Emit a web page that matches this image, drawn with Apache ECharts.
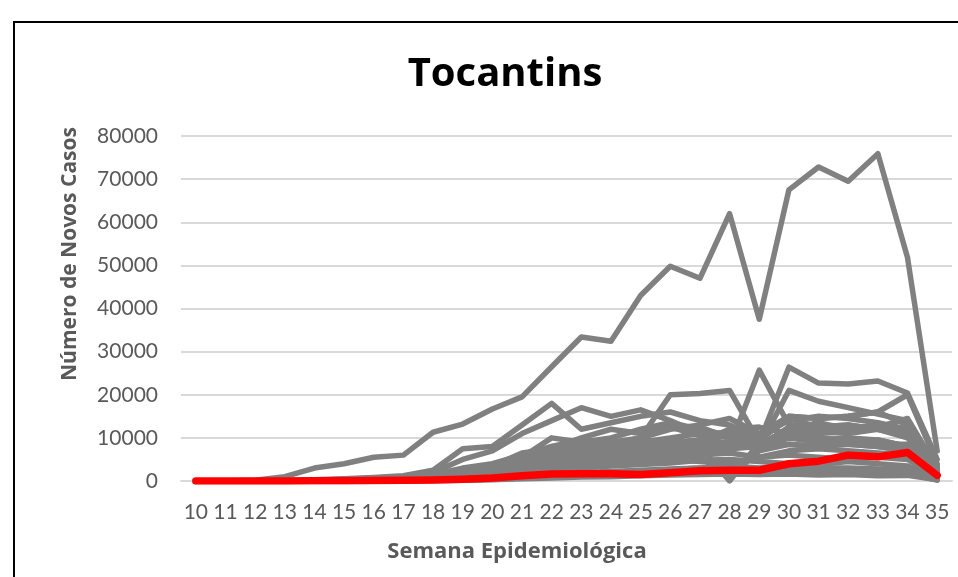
<!DOCTYPE html>
<html>
<head>
<meta charset="utf-8">
<script src="https://cdn.jsdelivr.net/npm/echarts@6/dist/echarts.min.js"></script>
<style>
  html, body { margin: 0; padding: 0; background: #fff; overflow: hidden; }
  #main { width: 958px; height: 577px; }
  .frame { position: absolute; left: 13px; top: 21px; width: 1200px; height: 800px;
           border-left: 2px solid #000; border-top: 2px solid #000; pointer-events: none; }
</style>
</head>
<body>
<div id="main"></div>
<div class="frame"></div>
<script>
var semanas = ["10","11","12","13","14","15","16","17","18","19","20","21","22","23","24","25","26","27","28","29","30","31","32","33","34","35"];

// Tocantins (vermelho)
var tocantins = [0,0,0,0,50,80,100,150,250,400,700,1200,1600,1700,1700,1500,1900,2400,2500,2500,4000,4600,6000,5600,6600,1300];

// demais estados (cinza)
var est01 = [0,0,200,1000,3000,4000,5500,6000,11300,13200,16700,19500,26500,33400,32400,43000,49800,47000,62000,37500,67500,72800,69500,75900,51800,7000];
var est02 = [0,0,0,100,300,500,800,1200,2500,7500,8000,13000,18000,12000,13500,15000,16000,14000,13000,10000,15000,14500,15000,16000,13000,3000];
var est03 = [0,0,0,0,200,400,700,1000,2000,5000,7000,11000,14000,17000,15000,16500,14000,11000,10000,8000,21000,18500,17000,15500,14000,2500];
var est04 = [0,0,0,0,100,200,400,700,1500,3000,4000,6000,8000,9500,9000,10000,20000,20300,21000,9000,26400,22700,22500,23200,20400,5000];
var est05 = [0,0,0,0,100,200,300,600,1200,2500,3500,5000,7000,8000,8500,9000,10000,11000,8000,25700,13000,12500,13000,12000,11000,3500];
var est06 = [0,0,0,0,100,200,300,500,1000,2000,3000,5000,6500,7500,8500,10000,12000,13000,14500,11000,15000,14500,15000,16000,20000,4000];
var est07 = [0,0,0,0,100,150,300,500,900,1800,3000,4500,6000,9500,8500,8000,9000,8500,12000,10500,14000,15000,14500,13500,12000,3000];
var est08 = [0,0,0,0,50,100,200,400,800,1500,2500,4000,5000,6000,7000,7500,8000,9000,12000,12500,11000,10000,9500,9000,8000,2000];
var est09 = [0,0,0,0,50,100,200,300,600,1200,2000,3000,4500,5500,6000,6500,7000,8000,0,9000,10000,9000,8500,8000,7000,1500];
var est10 = [0,0,0,0,50,100,150,300,500,1000,1800,2800,3500,4500,5000,6000,6500,5500,1000,7000,8500,8000,9000,8500,8500,2000];
var est11 = [0,0,0,0,50,100,200,300,500,1000,2000,3500,5000,6000,6500,7500,8000,8500,9000,7500,10000,9500,9000,9500,8000,1500];
var est12 = [0,0,0,0,0,50,100,200,400,800,1500,2800,4000,5000,5500,6000,6500,7500,8000,8500,10000,9500,10000,9500,8000,1200];
var est13 = [0,0,0,0,0,50,100,150,300,700,1300,2200,3000,3800,4500,5000,5500,6000,6500,5500,7000,7500,7000,6500,6000,1000];
var est14 = [0,0,0,0,0,30,60,100,200,400,700,1000,1500,2000,2200,2500,2800,3000,3500,3000,3500,3000,3000,2800,2500,500];
var est15 = [0,0,0,0,0,30,50,100,150,300,500,800,1000,1200,1500,1700,2000,2200,2000,1800,2000,1800,2000,1500,1800,400];
var est16 = [0,0,0,0,0,0,20,50,100,200,300,500,700,900,1000,1200,1400,1500,1600,1500,1600,1400,1500,1200,1300,300];
var est17 = [0,0,0,0,30,80,150,300,600,1500,2500,5000,8000,7000,8000,9500,9000,12500,10000,8500,12000,13500,12000,13000,11000,2500];
var est18 = [0,0,0,0,50,100,200,400,800,2000,3500,6500,7500,10000,12000,11000,12500,10500,11500,9500,14500,12500,13000,12000,10000,2500];
var est19 = [0,0,0,0,50,100,200,400,800,1800,3000,5500,10000,9000,10000,12000,13500,12000,10500,7500,11000,12000,12500,12500,14500,3000];
var est20 = [0,0,0,0,0,50,100,200,500,1200,2000,3500,5500,6000,7000,8500,7500,9500,10500,8500,12000,11000,11500,12500,11500,2500];
var est21 = [0,0,0,0,0,50,100,200,300,700,1200,2000,3000,3500,4000,4500,5000,4500,4000,5500,6000,5500,5000,5500,5000,1200];
var est22 = [0,0,0,0,0,30,80,150,250,500,800,1500,2200,3000,3500,3800,4200,4800,5000,4500,4000,3800,4500,4000,3500,700];
var est23 = [0,0,0,0,0,0,30,80,150,300,600,1000,1500,1700,2000,2300,2600,3000,2800,2500,2200,2000,2500,2000,2200,300];
var est24 = [0,0,0,0,0,0,20,50,100,200,400,700,1000,1200,1500,1800,2000,2500,2000,2200,2500,2000,1800,1500,1700,200];
var est25 = [0,0,0,0,30,80,200,400,900,2000,3500,4500,5500,6500,7000,8000,9000,9500,11000,8000,12500,11500,11000,12000,10500,2000];
var est26 = [0,0,0,0,0,20,50,100,300,700,1300,2200,3500,4500,5000,6000,6500,7000,7500,8000,8500,8000,8500,8000,7000,1200];

var outrosEstados = [est01,est02,est03,est04,est05,est06,est07,est08,est09,est10,est11,est12,est13,
                     est14,est15,est16,est17,est18,est19,est20,est21,est22,est23,est24,est25,est26];

var eixoY = { min: 0, max: 80000, intervalo: 10000 };

var myChart = echarts.init(document.getElementById('main'));

var fonte = 'Lato, "Open Sans", sans-serif';
var fonteTitulos = '"Open Sans", "Noto Sans", sans-serif';

var series = outrosEstados.map(function (d, i) {
    return {
        name: 'estado' + (i + 1),
        type: 'line',
        data: d,
        symbol: 'none',
        z: 2,
        lineStyle: { color: '#808080', width: 5.5, cap: 'round', join: 'round' }
    };
});
series.push({
    name: 'Tocantins',
    type: 'line',
    data: tocantins,
    symbol: 'none',
    z: 5,
    lineStyle: { color: '#FF0000', width: 7.5, cap: 'round', join: 'round' }
});

var option = {
    backgroundColor: '#fff',
    animation: false,
    title: {
        text: 'Tocantins',
        left: 500,
        top: 50,
        textAlign: 'center',
        textStyle: { fontFamily: fonteTitulos, fontSize: 40, fontWeight: 'bold', color: '#000' }
    },
    grid: {
        left: 181,
        right: 6,
        top: 136,
        bottom: 96,
        containLabel: false,
        outerBoundsMode: 'none'
    },
    xAxis: {
        type: 'category',
        boundaryGap: true,
        data: semanas,
        axisLine: { show: true, lineStyle: { color: '#D9D9D9', width: 2 } },
        axisTick: { show: false },
        axisLabel: {
            interval: 0,
            margin: 21,
            color: '#595959',
            fontFamily: fonte,
            fontSize: 21
        }
    },
    yAxis: {
        type: 'value',
        min: eixoY.min,
        max: eixoY.max,
        interval: eixoY.intervalo,
        axisLine: { show: false },
        axisTick: { show: false },
        splitLine: { lineStyle: { color: '#D9D9D9', width: 2 } },
        axisLabel: {
            margin: 23,
            color: '#595959',
            fontFamily: fonte,
            fontSize: 21,
            formatter: function (v) { return String(v); }
        }
    },
    graphic: [{
        type: 'text',
        x: 70,
        y: 254,
        rotation: Math.PI / 2,
        style: {
            text: 'Número de Novos Casos',
            fill: '#595959',
            font: 'bold 21px ' + fonteTitulos,
            textAlign: 'center',
            textVerticalAlign: 'middle'
        }
    }, {
        type: 'text',
        x: 517,
        y: 552,
        style: {
            text: 'Semana Epidemiológica',
            fill: '#595959',
            font: 'bold 22px ' + fonteTitulos,
            textAlign: 'center',
            textVerticalAlign: 'middle'
        }
    }],
    series: series
};
myChart.setOption(option);
</script>
</body>
</html>
